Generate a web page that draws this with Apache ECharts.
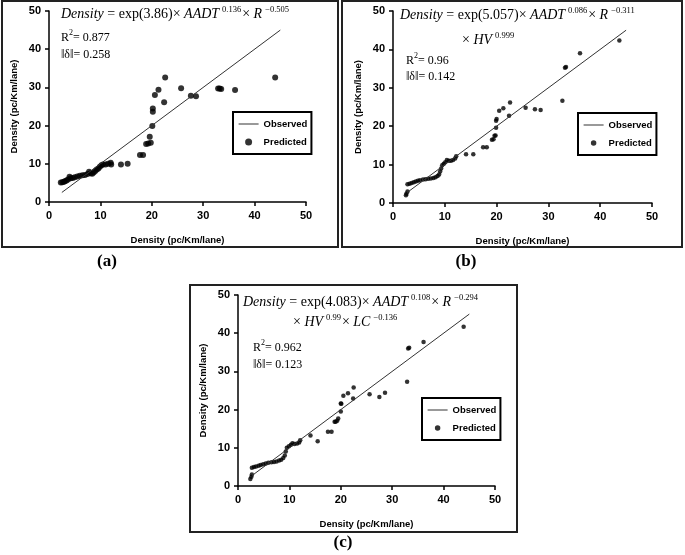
<!DOCTYPE html>
<html><head><meta charset="utf-8">
<script src="https://cdn.jsdelivr.net/npm/echarts@6/dist/echarts.min.js"></script>
<style>html,body{margin:0;padding:0;background:#fff}#c{width:685px;height:555px}</style>
</head><body><div id="c"></div>
<script>
// ---- data ----
const axisTicks = [0, 10, 20, 30, 40, 50];
const axisTitle = 'Density (pc/Km/lane)';
const observedA = [2.5, 45];
const observedB = [2.7, 45];
const observedC = [2.7, 45];
const predictedA = [[2.3,5.1],[2.6,5.2],[2.9,5.3],[3.1,5.4],[3.4,5.6],[3.7,5.9],[4.0,6.6],[4.2,6.2],[4.6,6.3],[5.0,6.5],[5.5,6.7],[6.0,6.9],[6.5,7.0],[7.0,7.1],[7.5,7.3],[7.8,7.9],[8.1,7.5],[8.4,7.4],[8.7,7.7],[9.0,8.1],[9.3,8.5],[9.6,8.8],[9.9,9.2],[10.2,9.6],[10.5,9.8],[11.0,9.8],[11.5,10.0],[12.0,10.3],[12.1,9.8],[14.0,9.8],[15.3,10.0],[17.7,12.3],[18.3,12.3],[18.9,15.2],[19.3,15.3],[19.6,17.1],[19.8,15.5],[20.1,19.9],[20.2,23.6],[20.2,24.5],[20.6,28.0],[21.3,29.4],[22.4,26.1],[22.6,32.6],[25.7,29.8],[27.6,27.8],[28.6,27.7],[32.9,29.7],[33.2,29.7],[33.5,29.6],[36.2,29.3],[44.0,32.6]];
const predictedB = [[2.5,2.0],[2.6,2.4],[2.8,3.0],[2.8,4.9],[3.2,5.0],[3.6,5.2],[4.0,5.4],[4.4,5.6],[4.8,5.8],[5.2,5.9],[5.8,6.1],[6.3,6.2],[6.8,6.3],[7.3,6.4],[7.8,6.5],[8.2,6.7],[8.6,7.0],[8.9,7.4],[9.1,8.2],[9.3,9.0],[9.5,9.8],[9.8,10.2],[10.1,10.6],[10.4,11.2],[10.8,11.0],[11.2,11.0],[11.6,11.2],[12.0,11.6],[12.2,12.2],[14.1,12.7],[15.5,12.7],[17.4,14.5],[18.1,14.5],[19.1,16.5],[19.4,16.6],[19.6,17.5],[19.8,17.6],[19.9,19.6],[19.9,21.4],[20.0,21.9],[20.5,24.0],[21.3,24.7],[22.4,22.7],[22.6,26.2],[25.6,24.8],[27.4,24.4],[28.5,24.2],[32.7,26.6],[33.2,35.2],[33.4,35.4],[36.1,39.0],[43.7,42.3]];
const predictedC = [[2.4,1.8],[2.6,2.4],[2.7,3.0],[2.7,4.8],[3.1,5.0],[3.5,5.1],[4.0,5.3],[4.4,5.5],[4.9,5.7],[5.4,5.9],[5.9,6.1],[6.5,6.2],[7.0,6.3],[7.5,6.4],[8.0,6.7],[8.4,6.9],[8.8,7.3],[9.1,8.0],[9.3,9.0],[9.5,10.0],[9.9,10.4],[10.3,10.8],[10.6,11.2],[11.0,11.0],[11.5,11.1],[11.9,11.4],[12.1,12.0],[14.1,13.2],[15.5,11.7],[17.5,14.2],[18.2,14.2],[18.8,16.8],[19.0,16.8],[19.3,17.1],[19.5,17.7],[20.0,19.5],[20.0,21.6],[20.1,21.5],[20.5,23.6],[21.4,24.3],[22.4,22.9],[22.5,25.8],[25.6,24.0],[27.5,23.3],[28.6,24.4],[32.9,27.3],[33.1,36.0],[33.3,36.2],[36.1,37.7],[43.9,41.7]];
const seriesNames = ['Observed', 'Predicted'];
const panelLabels = ['(a)', '(b)', '(c)'];
const eqA = ['{it|Density} = exp(3.86)\u00d7 {it|AADT}{sp|0.136}\u00d7 {it|R}{sp|\u22120.505}', 'R{sq|2}= 0.877', '\u2016\u03b4\u2016= 0.258'];
const eqB = ['{it|Density} = exp(5.057)\u00d7 {it|AADT}{sp|0.086}\u00d7 {it|R}{sp|\u22120.311}', '\u00d7 {it|HV}{sp|0.999}', 'R{sq|2}= 0.96', '\u2016\u03b4\u2016= 0.142'];
const eqC = ['{it|Density} = exp(4.083)\u00d7 {it|AADT}{sp|0.108}\u00d7 {it|R}{sp|\u22120.294}', '\u00d7 {it|HV}{sp|0.99}\u00d7 {it|LC}{sp|\u22120.136}', 'R{sq|2}= 0.962', '\u2016\u03b4\u2016= 0.123'];

// ---- layout ----
const grids = [
  {left: 49, top: 11, width: 257, height: 191},
  {left: 393, top: 11, width: 259, height: 192},
  {left: 238, top: 295, width: 257, height: 191}
];
const dotSizes = [6, 4.5, 4.5];
const legendPos = [{left: 233, top: 112}, {left: 578, top: 113}, {left: 422, top: 398}];
const SANS = 'Liberation Sans, Arial, sans-serif';
const SERIF = 'Liberation Serif, Times New Roman, serif';

function axis(i, isX) {
  return {
    type: 'value', gridIndex: i, min: axisTicks[0], max: axisTicks[axisTicks.length - 1],
    interval: axisTicks[1] - axisTicks[0],
    name: axisTitle, nameLocation: 'middle', nameGap: isX ? 33 : 30,
    nameTextStyle: {color: '#000', fontWeight: 'bold', fontSize: 9.5, fontFamily: SANS},
    axisLine: {lineStyle: {color: '#000', width: 1.5}},
    axisTick: {length: 4, lineStyle: {color: '#000', width: 1.5}},
    axisLabel: {color: '#000', fontWeight: 'bold', fontSize: 11, fontFamily: SANS, margin: 8},
    splitLine: {show: false}
  };
}
function title(text, left, top, size) {
  return {text: text, left: left, top: top, padding: 0,
    textStyle: {fontSize: size, fontWeight: 'normal', fontFamily: SERIF, color: '#000', lineHeight: 18,
      rich: {
        it: {fontStyle: 'italic', fontSize: size, fontFamily: SERIF, color: '#000', lineHeight: 18},
        sp: {fontSize: 8.5, fontFamily: SERIF, color: '#000', lineHeight: 13, verticalAlign: 'top', padding: [0, 1, 0, 3]},
        sq: {fontSize: 8, fontFamily: SERIF, color: '#000', lineHeight: 13, verticalAlign: 'top'}
      }}};
}
const titles = [
  title(eqA[0], 61, 5, 14), title(eqA[1], 61, 29, 12), title(eqA[2], 61, 46, 12),
  title(eqB[0], 400, 6, 14), title(eqB[1], 462, 31, 14), title(eqB[2], 406, 52, 12), title(eqB[3], 406, 68, 12),
  title(eqC[0], 243, 293, 14), title(eqC[1], 293, 313, 14), title(eqC[2], 253, 339, 12), title(eqC[3], 253, 356, 12)
];

const observed = [observedA, observedB, observedC];
const predicted = [predictedA, predictedB, predictedC];
const series = [];
for (let i = 0; i < 3; i++) {
  series.push({type: 'line', name: seriesNames[0], xAxisIndex: i, yAxisIndex: i,
    data: observed[i].map(v => [v, v]), symbol: 'none', showSymbol: false, color: '#333',
    itemStyle: {color: '#333'}, lineStyle: {color: '#333', width: 1}, silent: true});
  series.push({type: 'scatter', name: seriesNames[1], xAxisIndex: i, yAxisIndex: i,
    data: predicted[i], symbolSize: dotSizes[i], color: '#000', itemStyle: {color: '#000'}});
}
const legends = legendPos.map((p, i) => ({
  left: p.left, top: p.top, orient: 'vertical', itemWidth: 20, itemHeight: dotSizes[i] + 1, itemGap: 8,
  padding: [7, 4, 7, 5], borderColor: '#000', borderWidth: 2, selectedMode: false,
  textStyle: {color: '#000', fontWeight: 'bold', fontSize: 9.5, fontFamily: SANS},
  data: [
    {name: seriesNames[0], itemStyle: {opacity: 0}, lineStyle: {color: '#555', width: 1.2}},
    {name: seriesNames[1], icon: 'circle', itemStyle: {color: '#000'}}
  ]
}));
const frames = [[2, 1, 336, 246], [342, 1, 340, 246], [190, 285, 327, 247]];
const labelPos = [[107, 262], [466, 262], [343, 543]];
const graphic = frames.map(f => ({type: 'rect', silent: true, shape: {x: f[0], y: f[1], width: f[2], height: f[3]},
  style: {fill: 'none', stroke: '#222', lineWidth: 2}}))
  .concat(labelPos.map((p, i) => ({type: 'text', x: p[0], y: p[1],
    style: {text: panelLabels[i], fontFamily: SERIF, fontWeight: 'bold', fontSize: 17, fill: '#000', textAlign: 'center', textVerticalAlign: 'middle'}})));

const chart = echarts.init(document.getElementById('c'), null, {renderer: 'canvas'});
chart.setOption({
  animation: false, backgroundColor: '#fff',
  grid: grids,
  xAxis: [0, 1, 2].map(i => axis(i, true)),
  yAxis: [0, 1, 2].map(i => axis(i, false)),
  title: titles, legend: legends, series: series, graphic: graphic
});
</script></body></html>
